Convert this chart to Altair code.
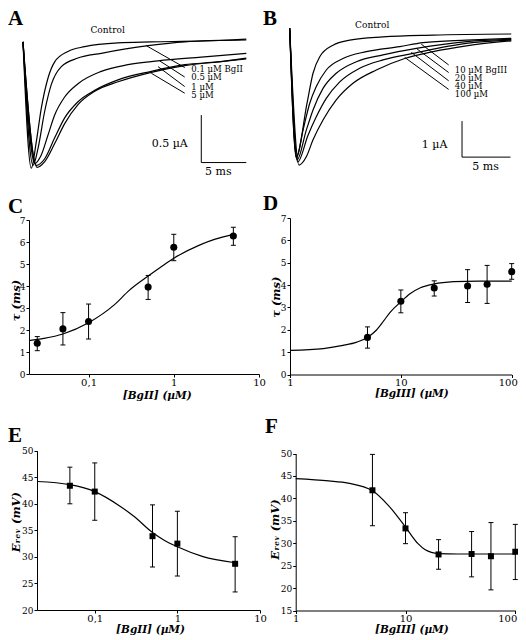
import altair as alt
import pandas as pd

# ---------------- Panel A: current traces (time in ms, current in µA) ----------------
a_names = ["Control", "0.1 µM", "0.5 µM", "1 µM", "5 µM"]
a_t_control = [0, 0.92, 1.48, 2.03, 2.78, 3.52, 5.0, 6.86, 10.56, 14.26, 19.81, 24.81]
a_i_control = [-0.02, -1.35, -1.07, -0.72, -0.40, -0.23, -0.12, -0.07, -0.03, -0.02, -0.01, 0.01]
a_t_01 = [0, 1.11, 1.67, 2.41, 3.14, 4.26, 6.11, 8.7, 13.89, 17.97, 24.81]
a_i_01 = [-0.02, -1.32, -1.14, -0.75, -0.47, -0.28, -0.19, -0.14, -0.06, -0.02, 0.0]
a_t_05 = [0, 1.3, 2.03, 2.78, 3.52, 4.63, 6.11, 8.7, 11.67, 15.0, 19.81, 24.81]
a_i_05 = [-0.02, -1.30, -1.21, -1.0, -0.79, -0.60, -0.46, -0.33, -0.26, -0.22, -0.18, -0.14]
a_t_1 = [0, 1.48, 2.41, 3.52, 4.63, 6.11, 7.97, 10.56, 14.26, 17.97, 21.67, 24.81]
a_i_1 = [-0.02, -1.32, -1.25, -1.03, -0.82, -0.65, -0.53, -0.42, -0.33, -0.26, -0.23, -0.19]
a_t_5 = [0, 1.56, 2.41, 3.52, 4.63, 6.11, 7.97, 10.56, 14.26, 17.97, 21.67, 24.81]
a_i_5 = [-0.02, -1.34, -1.28, -1.09, -0.88, -0.68, -0.54, -0.44, -0.34, -0.27, -0.23, -0.20]

a_labels = ["0.1 µM BgII", "0.5 µM", "1 µM", "5 µM"]
a_label_t = [18.7, 18.7, 18.7, 18.7]
a_label_i = [-0.30, -0.39, -0.49, -0.58]
a_ptr_t = [13.7, 15.19, 15.0, 14.26]
a_ptr_i = [-0.06, -0.22, -0.28, -0.35]
a_ptr_t2 = [17.97, 17.97, 17.97, 17.97]
a_ptr_i2 = [-0.29, -0.39, -0.49, -0.56]
a_bar_t = [19.81, 19.81]
a_bar_i = [-0.79, -1.29]
a_bar_t2 = [19.81, 24.81]
a_bar_i2 = [-1.29, -1.29]

# ---------------- Panel B ----------------
b_names = ["Control", "10 µM", "20 µM", "40 µM", "100 µM"]
b_t_control = [0, 0.69, 1.80, 2.43, 3.13, 4.51, 6.25, 9.72, 14.93, 23.08]
b_i_control = [0.16, -3.41, -1.93, -1.09, -0.63, -0.31, -0.17, -0.08, -0.03, 0.0]
b_t_10 = [0, 0.69, 1.39, 2.08, 2.77, 3.81, 5.55, 7.98, 11.46, 13.89, 18.40, 23.08]
b_i_10 = [0.16, -3.45, -2.67, -1.93, -1.46, -1.0, -0.68, -0.49, -0.35, -0.24, -0.17, -0.12]
b_t_20 = [0, 0.76, 1.73, 2.43, 3.47, 4.85, 6.94, 9.72, 13.19, 18.40, 23.08]
b_i_20 = [0.16, -3.5, -2.67, -2.11, -1.51, -1.09, -0.77, -0.58, -0.40, -0.21, -0.15]
b_t_40 = [0, 0.83, 1.91, 2.77, 3.81, 5.21, 7.29, 9.72, 12.84, 18.40, 23.08]
b_i_40 = [0.16, -3.55, -2.81, -2.30, -1.79, -1.33, -0.95, -0.72, -0.54, -0.26, -0.17]
b_t_100 = [0, 0.97, 1.73, 2.43, 3.47, 4.85, 6.59, 9.02, 11.98, 14.93, 18.40, 23.08]
b_i_100 = [0.16, -3.64, -3.41, -2.94, -2.39, -1.83, -1.37, -1.0, -0.68, -0.49, -0.33, -0.19]

b_labels = ["10 µM BgIII", "20 µM", "40 µM", "100 µM"]
b_label_t = [17.2, 17.2, 17.2, 17.2]
b_label_i = [-1.0, -1.23, -1.44, -1.67]
b_ptr_t = [13.7, 13.19, 12.67, 11.98]
b_ptr_i = [-0.28, -0.40, -0.51, -0.65]
b_ptr_t2 = [16.56, 16.56, 16.56, 16.56]
b_ptr_i2 = [-0.86, -1.07, -1.30, -1.54]
b_bar_t = [17.95, 17.95]
b_bar_i = [-2.42, -3.42]
b_bar_t2 = [17.95, 23.0]
b_bar_i2 = [-3.42, -3.42]

# ---------------- Panel C: tau vs [BgII] ----------------
c_conc = [0.025, 0.05, 0.1, 0.5, 1, 5]
c_tau = [1.40, 2.05, 2.39, 3.95, 5.76, 6.27]
c_lo = [1.06, 1.32, 1.59, 3.39, 5.15, 5.85]
c_hi = [1.70, 2.79, 3.18, 4.48, 6.35, 6.67]
c_fit_x = [0.02, 0.03, 0.05, 0.1, 0.2, 0.3, 0.5, 0.7, 1, 2, 3, 5]
c_fit_y = [1.52, 1.62, 1.82, 2.33, 3.14, 3.8, 4.45, 4.85, 5.26, 5.86, 6.12, 6.35]

# ---------------- Panel D: tau vs [BgIII] ----------------
d_conc = [5, 10, 20, 40, 60, 100]
d_tau = [1.66, 3.28, 3.87, 3.96, 4.04, 4.60]
d_lo = [1.18, 2.76, 3.51, 3.22, 3.18, 4.26]
d_hi = [2.13, 3.78, 4.19, 4.69, 4.88, 4.96]
d_fit_x = [1, 2, 3, 4, 5, 6, 7, 8, 10, 12, 15, 20, 30, 50, 100]
d_fit_y = [1.08, 1.16, 1.3, 1.45, 1.66, 1.98, 2.4, 2.78, 3.25, 3.6, 3.88, 4.05, 4.15, 4.18, 4.18]

# ---------------- Panel E: Erev vs [BgII] ----------------
e_conc = [0.05, 0.1, 0.5, 1, 5]
e_erev = [43.4, 42.3, 33.9, 32.5, 28.7]
e_lo = [40.0, 36.9, 28.1, 26.4, 23.4]
e_hi = [46.9, 47.7, 39.8, 38.6, 33.8]
e_fit_x = [0.02, 0.05, 0.1, 0.2, 0.3, 0.5, 0.7, 1, 2, 5]
e_fit_y = [44.2, 43.6, 42.3, 39.6, 37.6, 34.6, 33.1, 31.9, 30.1, 28.9]

# ---------------- Panel F: Erev vs [BgIII] ----------------
f_conc = [5, 10, 20, 40, 60, 100]
f_erev = [41.8, 33.3, 27.5, 27.6, 27.1, 28.1]
f_lo = [33.9, 29.9, 24.2, 22.5, 19.6, 21.9]
f_hi = [49.8, 36.8, 30.8, 32.6, 34.6, 34.2]
f_fit_x = [1, 2, 3, 5, 7, 10, 13, 15, 20, 30, 100]
f_fit_y = [44.4, 43.9, 43.4, 41.7, 38.4, 33.6, 29.9, 28.6, 27.7, 27.6, 27.6]

panel_letters = ["A", "B", "C", "D", "E", "F"]

# ---------------- layout / style ----------------
W, H = 510, 630
SERIF = "DejaVu Serif"
LETTER_FONT = "Liberation Serif"


def traces_df(names, ts, cs):
    rows = []
    for n, tt, ii in zip(names, ts, cs):
        for a, b in zip(tt, ii):
            rows.append({"trace": n, "t": a, "i": b})
    return pd.DataFrame(rows)


def seg_df(t, i, t2, i2):
    return pd.DataFrame({"t": t, "i": i, "t2": t2, "i2": i2})


def trace_panel(df_tr, lab_df, ptr_df, bar_df, ctrl_df, txt_df, xdom, xrng, ydom, yrng):
    def X():
        return alt.X("t:Q", scale=alt.Scale(domain=xdom, range=xrng, nice=False, zero=False), axis=None)

    def Y():
        return alt.Y("i:Q", scale=alt.Scale(domain=ydom, range=yrng, nice=False, zero=False), axis=None)

    lines = alt.Chart(df_tr).mark_line(color="black", strokeWidth=1.2, interpolate="monotone").encode(
        x=X(), y=Y(), detail="trace:N")
    ptr = alt.Chart(ptr_df).mark_rule(color="black", strokeWidth=1).encode(x=X(), y=Y(), x2="t2:Q", y2="i2:Q")
    bar = alt.Chart(bar_df).mark_rule(color="black", strokeWidth=1).encode(x=X(), y=Y(), x2="t2:Q", y2="i2:Q")
    labs = alt.Chart(lab_df).mark_text(font=SERIF, fontSize=8.5, align="left", baseline="middle",
                                       color="black").encode(x=X(), y=Y(), text="label:N")
    ctrl = alt.Chart(ctrl_df).mark_text(font=SERIF, fontSize=9, align="center", baseline="middle",
                                        color="black").encode(x=X(), y=Y(), text="label:N")
    txt = alt.Chart(txt_df).mark_text(font=SERIF, fontSize=11, baseline="middle",
                                      color="black").encode(x=X(), y=Y(), text="label:N")
    return alt.layer(lines, ptr, bar, labs, ctrl, txt)


def left_axis(xpx, values, title, tx, ty):
    return alt.Axis(orient="left", offset=-xpx, values=values, grid=False, tickSize=3,
                    tickColor="black", domainColor="black", labelColor="black", labelFont=SERIF,
                    labelFontSize=9, labelPadding=1, labelFlush=False, labelOverlap=False,
                    title=title, titleFont=SERIF, titleFontSize=11.5, titleFontStyle="italic",
                    titleFontWeight="bold", titleColor="black", titleX=tx, titleY=ty,
                    titleAngle=270, titleBaseline="bottom", titleAlign="center")


def bottom_axis(ypx, values, title, tx, ty, expr, last_shift):
    return alt.Axis(orient="bottom", offset=ypx - H, values=values, grid=False, tickSize=3,
                    tickColor="black", domainColor="black", labelColor="black", labelFont=SERIF,
                    labelFontSize=10, labelPadding=0, labelFlush=False, labelOverlap=False,
                    labelExpr=expr,
                    labelOffset={"expr": "datum.value >= 100 ? %d : 0" % last_shift},
                    title=title, titleFont=SERIF, titleFontSize=10.5, titleFontStyle="italic",
                    titleFontWeight="bold", titleColor="black", titleX=tx, titleY=ty,
                    titleAngle=0, titleBaseline="top", titleAlign="center")


def dose_panel(conc, val, lo, hi, fx, fy, xdom, xrng, ydom, yrng, xax, yax, shape, size):
    def X():
        return alt.X("x:Q", scale=alt.Scale(type="log", domain=xdom, range=xrng, nice=False), axis=xax)

    def Y(field):
        return alt.Y(field + ":Q", scale=alt.Scale(domain=ydom, range=yrng, nice=False, zero=False), axis=yax)

    pts = pd.DataFrame({"x": conc, "y": val, "lo": lo, "hi": hi})
    fit = pd.DataFrame({"x": fx, "y": fy})
    err = alt.Chart(pts).mark_rule(color="black", strokeWidth=1).encode(x=X(), y=Y("lo"), y2="hi:Q")
    cap_lo = alt.Chart(pts).mark_tick(orient="horizontal", size=5, thickness=1, color="black",
                                      opacity=1).encode(x=X(), y=Y("lo"))
    cap_hi = alt.Chart(pts).mark_tick(orient="horizontal", size=5, thickness=1, color="black",
                                      opacity=1).encode(x=X(), y=Y("hi"))
    curve = alt.Chart(fit).mark_line(color="black", strokeWidth=1.2, interpolate="monotone").encode(
        x=X(), y=Y("y"))
    dots = alt.Chart(pts).mark_point(filled=True, shape=shape, size=size, color="black",
                                     opacity=1).encode(x=X(), y=Y("y"))
    return alt.layer(err, cap_lo, cap_hi, curve, dots)


# ---- Panel A ----
dfA = traces_df(a_names, [a_t_control, a_t_01, a_t_05, a_t_1, a_t_5],
                [a_i_control, a_i_01, a_i_05, a_i_1, a_i_5])
panelA = trace_panel(
    dfA,
    pd.DataFrame({"t": a_label_t, "i": a_label_i, "label": a_labels}),
    seg_df(a_ptr_t, a_ptr_i, a_ptr_t2, a_ptr_i2),
    seg_df(a_bar_t, a_bar_i, a_bar_t2, a_bar_i2),
    pd.DataFrame({"t": [9.4], "i": [0.105], "label": ["Control"]}),
    pd.DataFrame({"t": [16.3, 21.7], "i": [-1.09, -1.39], "label": ["0.5 µA", "5 ms"]}),
    [0, 25], [15, 240], [-1.5, 0.2], [174.5, 13])

# ---- Panel B ----
dfB = traces_df(b_names, [b_t_control, b_t_10, b_t_20, b_t_40, b_t_100],
                [b_i_control, b_i_10, b_i_20, b_i_40, b_i_100])
panelB = trace_panel(
    dfB,
    pd.DataFrame({"t": b_label_t, "i": b_label_i, "label": b_labels}),
    seg_df(b_ptr_t, b_ptr_i, b_ptr_t2, b_ptr_i2),
    seg_df(b_bar_t, b_bar_i, b_bar_t2, b_bar_i2),
    pd.DataFrame({"t": [8.6], "i": [0.25], "label": ["Control"]}),
    pd.DataFrame({"t": [15.1, 20.4], "i": [-3.08, -3.69], "label": ["1 µA", "5 ms"]}),
    [0, 23.5], [281.7, 507.3], [-4, 0.5], [170, 8])

comma_expr = "replace(format(datum.value, '~g'), '.', ',')"
plain_expr = "format(datum.value, '~g')"

panelC = dose_panel(
    c_conc, c_tau, c_lo, c_hi, c_fit_x, c_fit_y,
    [0.02, 10], [21, 251], [0, 7], [366, 212],
    bottom_axis(366, [0.1, 1, 10], "[BgII] (µM)", 148.7, 16, comma_expr, 0),
    left_axis(21, [0, 1, 2, 3, 4, 5, 6, 7], "τ (ms)", -8, 292),
    "circle", 50)

panelD = dose_panel(
    d_conc, d_tau, d_lo, d_hi, d_fit_x, d_fit_y,
    [1, 100], [282, 503.7], [0, 7], [366.5, 210],
    bottom_axis(366.5, [1, 10, 100], "[BgIII] (µM)", 403.3, 14, plain_expr, -4),
    left_axis(282, [0, 1, 2, 3, 4, 5, 6, 7], "τ (ms)", -9, 288.7),
    "circle", 50)

panelE = dose_panel(
    e_conc, e_erev, e_lo, e_hi, e_fit_x, e_fit_y,
    [0.02, 10], [29, 252], [20, 50], [602, 442.7],
    bottom_axis(602, [0.1, 1, 10], "[BgII] (µM)", 142, 14, comma_expr, 0),
    left_axis(29, [20, 25, 30, 35, 40, 45, 50], "Eᵣₑᵥ (mV)", -16, 513.7),
    "square", 36)

panelF = dose_panel(
    f_conc, f_erev, f_lo, f_hi, f_fit_x, f_fit_y,
    [1, 100], [287.7, 507.3], [15, 50], [602.5, 445.5],
    bottom_axis(602.5, [1, 10, 100], "[BgIII] (µM)", 403.3, 14, plain_expr, -8),
    left_axis(287.7, [15, 20, 25, 30, 35, 40, 45, 50], "Eᵣₑᵥ (mV)", -15, 521),
    "square", 36)

letters_df = pd.DataFrame({
    "letter": panel_letters,
    "px": [0, 255, 0, 255, 0, 257],
    "py": [17, 17, 205, 202, 434, 425],
})
letters = alt.Chart(letters_df).mark_text(font=LETTER_FONT, fontSize=21, fontWeight="bold",
                                          align="left", baseline="alphabetic", color="black").encode(
    x=alt.X("px:Q", scale=None, axis=None),
    y=alt.Y("py:Q", scale=None, axis=None),
    text="letter:N")

chart = alt.layer(panelA, panelB, panelC, panelD, panelE, panelF, letters).resolve_scale(
    x="independent", y="independent").resolve_axis(x="independent", y="independent").properties(
    width=W, height=H, padding=0, autosize=alt.AutoSizeParams(type="none"),
    background="white").configure_view(stroke=None)

chart.save("out.html", embed_options={"renderer": "svg", "actions": False})
